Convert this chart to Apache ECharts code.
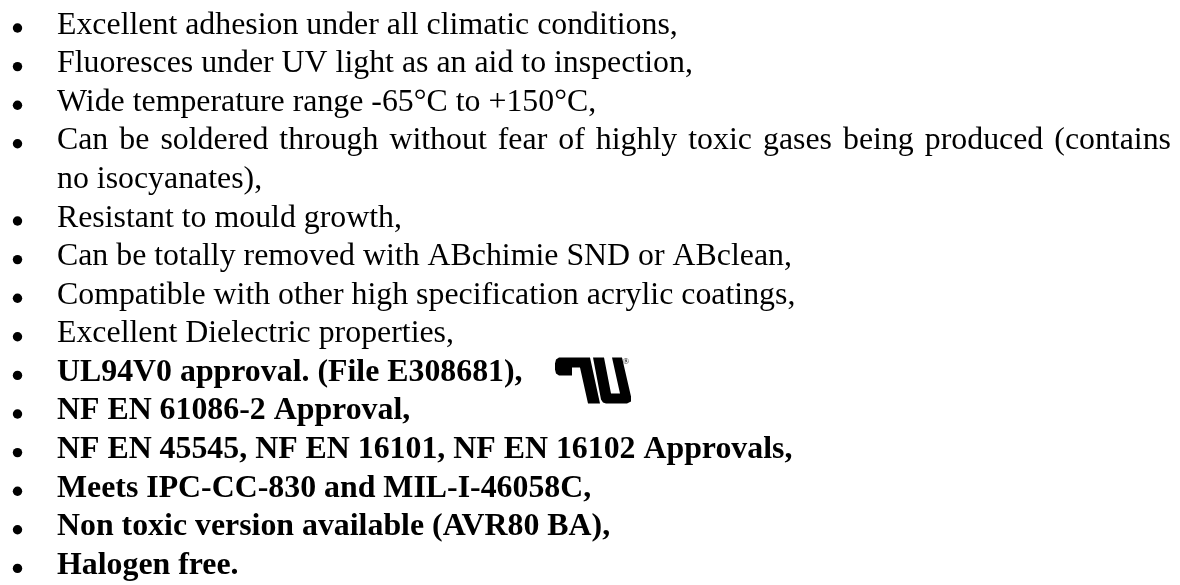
<!DOCTYPE html>
<html>
<head>
<meta charset="utf-8">
<script src="https://cdn.jsdelivr.net/npm/echarts@6/dist/echarts.min.js"></script>
<style>
  html, body { margin: 0; padding: 0; background: #ffffff; }
  #sheet { width: 1180px; height: 585px; }
</style>
</head>
<body>
<div id="sheet"></div>
<script>

// plain bullets; an inner array is one bullet wrapped over several lines
var features = [
    'Excellent adhesion under all climatic conditions,',
    'Fluoresces under UV light as an aid to inspection,',
    'Wide temperature range -65°C to +150°C,',
    ['Can be soldered through without fear of highly toxic gases being produced (contains', 'no isocyanates),'],
    'Resistant to mould growth,',
    'Can be totally removed with ABchimie SND or ABclean,',
    'Compatible with other high specification acrylic coatings,',
    'Excellent Dielectric properties,'
];

// bold bullets
var approvals = [
    'UL94V0 approval. (File E308681),',
    'NF EN 61086-2 Approval,',
    'NF EN 45545, NF EN 16101, NF EN 16102 Approvals,',
    'Meets IPC-CC-830 and MIL-I-46058C,',
    'Non toxic version available (AVR80 BA),',
    'Halogen free.'
];

// the bullet that carries the UL mark after its text
var ulMarkAfter = 'UL94V0 approval. (File E308681),';

function drawList() {
    var sheet = echarts.init(document.getElementById('sheet'));

    var fontSize = 31.85;
    var family = '"Liberation Serif", "Times New Roman", serif';
    var textX = 57;
    var rightEdge = 1171;
    var firstBase = 36;
    var step = 38.6;

    var ctx = document.createElement('canvas').getContext('2d');
    function fontOf(bold) {
        return (bold ? 'bold ' : '') + fontSize + 'px ' + family;
    }
    function widthOf(s, bold) {
        ctx.font = fontOf(bold);
        return ctx.measureText(s).width;
    }

    // flatten into rows
    var rows = [];
    features.forEach(function (f) {
        var parts = typeof f === 'string' ? [f] : f;
        parts.forEach(function (p, i) {
            rows.push({ text: p, bold: false, bullet: i === 0, justify: i < parts.length - 1 });
        });
    });
    approvals.forEach(function (a) {
        rows.push({ text: a, bold: true, bullet: true, justify: false });
    });

    var elements = [];
    rows.forEach(function (row, i) {
        var base = firstBase + i * step;
        var midY = base - fontSize * 0.3375;

        if (row.bullet) {
            elements.push({
                type: 'circle',
                shape: { cx: 17.5, cy: base - 8, r: 4.7 },
                style: { fill: '#000' }
            });
        }

        if (row.justify) {
            var words = row.text.split(' ');
            var total = 0;
            words.forEach(function (w) { total += widthOf(w, row.bold); });
            var gap = (rightEdge - textX - total) / (words.length - 1);
            var x = textX;
            words.forEach(function (w) {
                elements.push({
                    type: 'text',
                    x: x, y: midY,
                    style: { text: w, font: fontOf(row.bold), fill: '#000', verticalAlign: 'middle', align: 'left' }
                });
                x += widthOf(w, row.bold) + gap;
            });
        } else {
            elements.push({
                type: 'text',
                x: textX, y: midY,
                style: { text: row.text, font: fontOf(row.bold), fill: '#000', verticalAlign: 'middle', align: 'left' }
            });
        }

        if (row.text === ulMarkAfter) {
            // UL listing mark, drawn as two filled outlines
            var lx = 555, ly = base - 26;
            elements.push({
                type: 'polygon',
                x: lx, y: ly,
                shape: {
                    points: [[5, 0], [35, 0], [45, 46], [33, 46], [25, 10], [17, 10], [17, 18], [4, 18],
                             [1, 16], [0, 12], [0, 6], [1, 2], [4, 0]]
                },
                style: { fill: '#000' }
            });
            elements.push({
                type: 'polygon',
                x: lx, y: ly,
                shape: {
                    points: [[38, 0], [49, 0], [56, 36], [65, 36], [57, 0], [67, 0], [76, 39], [76, 44],
                             [72, 46], [51, 46], [48, 45], [46, 42]]
                },
                style: { fill: '#000' }
            });
            elements.push({
                type: 'text',
                x: lx + 71, y: ly + 4,
                style: { text: '®', font: '9px ' + family, fill: '#000', verticalAlign: 'middle', align: 'center' }
            });
        }
    });

    var option = {
        backgroundColor: '#ffffff',
        animation: false,
        graphic: elements
    };
    sheet.setOption(option);
}

drawList();

</script>
</body>
</html>
